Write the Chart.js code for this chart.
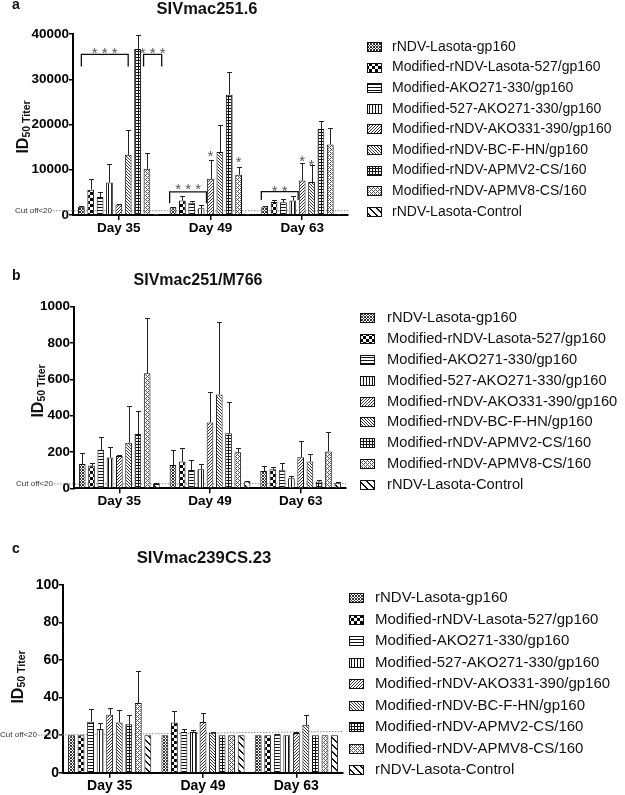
<!DOCTYPE html>
<html>
<head>
<meta charset="utf-8">
<script src="https://cdn.jsdelivr.net/npm/chart.js@4.4.1/dist/chart.umd.min.js"></script>
<style>
  body { margin: 0; background: #fff; overflow: hidden; }
  canvas { position: absolute; left: 0; }
</style>
</head>
<body>
<canvas id="chartA" width="625" height="250" style="top:0px;width:625px;height:250px"></canvas>
<canvas id="chartB" width="625" height="265" style="top:255px;width:625px;height:265px"></canvas>
<canvas id="chartC" width="625" height="270" style="top:525px;width:625px;height:270px"></canvas>
<script>
const FONT = '"Liberation Sans", Arial, sans-serif';

const days = ["Day 35", "Day 49", "Day 63"];
const groups = [
  "rNDV-Lasota-gp160",
  "Modified-rNDV-Lasota-527/gp160",
  "Modified-AKO271-330/gp160",
  "Modified-527-AKO271-330/gp160",
  "Modified-rNDV-AKO331-390/gp160",
  "Modified-rNDV-BC-F-HN/gp160",
  "Modified-rNDV-APMV2-CS/160",
  "Modified-rNDV-APMV8-CS/160",
  "rNDV-Lasota-Control"
];

// a: SIVmac251.6 (one row per group, one column per day)
const titerA = [
  [1800, 1700, 1900],
  [5600, 3200, 2900],
  [4000, 2700, 2800],
  [7200, 1500, 3200],
  [2300, 8000, 7600],
  [13300, 13900, 7300],
  [36700, 26600, 19000],
  [10200, 8900, 15600],
  [20, 20, 20]
];
const semA = [
  [100, 150, 150],
  [2400, 900, 400],
  [1000, 300, 700],
  [4000, 800, 1000],
  [100, 4200, 3800],
  [5400, 6000, 3700],
  [3000, 4900, 1700],
  [3400, 1700, 3700],
  [0, 0, 0]
];
const ticksA = [0, 10000, 20000, 30000, 40000];
const cutoffA = [950, 950];
const bracketsA = [
  { day: 0, from: 0, to: 5, top: 35500, leg: 32800, mark: "* * *", markAt: 36500, edge: false },
  { day: 0, from: 7, to: 8, top: 35500, leg: 32800, mark: "* * *", markAt: 36500, edge: true },
  { day: 1, from: 0, to: 3, top: 5100, leg: 2600, mark: "* * *", markAt: 6600, edge: true },
  { day: 2, from: 0, to: 3, top: 5150, leg: 3300, mark: "* *", markAt: 6100, edge: true }
];
const starsA = [
  { day: 1, bar: 4, at: 13900 },
  { day: 1, bar: 7, at: 12400 },
  { day: 2, bar: 4, at: 12700 },
  { day: 2, bar: 5, at: 11900 }
];

// b: SIVmac251/M766
const titerB = [
  [134, 128, 95],
  [125, 147, 105],
  [211, 101, 99],
  [169, 105, 55],
  [178, 363, 171],
  [251, 517, 147],
  [299, 303, 37],
  [633, 198, 202],
  [24, 37, 28]
];
const semB = [
  [59, 83, 28],
  [13, 73, 14],
  [73, 55, 42],
  [60, 29, 15],
  [4, 169, 90],
  [202, 400, 40],
  [127, 174, 9],
  [306, 26, 110],
  [7, 5, 9]
];
const ticksB = [0, 200, 400, 600, 800, 1000];
const cutoffB = [24, 26];

// c: SIVmac239CS.23
const titerC = [
  [20, 20, 20],
  [20, 26.8, 20],
  [27.2, 21.7, 20.5],
  [23.3, 21.7, 20],
  [30.9, 27, 21.2],
  [26.8, 21.3, 25.5],
  [25.8, 20, 20],
  [37.1, 20, 20],
  [20, 20, 20]
];
const semC = [
  [0, 0, 0],
  [0, 6.1, 0],
  [6.9, 1.4, 0.2],
  [3.2, 1.0, 0],
  [3.7, 5, 0.3],
  [6.6, 0.4, 5.2],
  [4.9, 0, 0],
  [17.1, 0, 0],
  [0, 0, 0]
];
const ticksC = [0, 20, 40, 60, 80, 100];
const cutoffC = [20, 22];

// pixel tiles for the hatch fills, one per group
function makeTile(i) {
  const specs = [
    [3, "#333", (x, y) => (x + y) % 3 === 0 || (x - y + 3) % 3 === 0],
    [6, "#000", (x, y) => (Math.floor(x / 3) + Math.floor(y / 3)) % 2 === 0],
    [3, "#111", (x, y) => y === 0],
    [3, "#111", (x, y) => x === 0],
    [3, "#333", (x, y) => (x + y) % 3 === 2],
    [3, "#333", (x, y) => (x - y + 3) % 3 === 0],
    [3, "#111", (x, y) => x === 0 || y === 0],
    [4, "#555", (x, y) => (x + y) % 4 === 0 || ((x + y) % 4 === 2 && x % 2 === 0)],
    [7, "#111", (x, y) => ((x - y) % 7 + 7) % 7 < 2]
  ];
  const [s, col, on] = specs[i];
  const c = document.createElement("canvas");
  c.width = s; c.height = s;
  const t = c.getContext("2d");
  t.fillStyle = "#fff";
  t.fillRect(0, 0, s, s);
  t.fillStyle = col;
  for (let x = 0; x < s; x++) {
    for (let y = 0; y < s; y++) {
      if (on(x, y)) t.fillRect(x, y, 1, 1);
    }
  }
  return c;
}

function decor(p) {
  return {
    id: "decor",
    beforeDatasetsDraw(chart) {
      const ctx = chart.ctx, y = chart.scales.y, area = chart.chartArea;
      ctx.save();
      const y0 = y.getPixelForValue(p.cutoff[0]);
      const y1 = y.getPixelForValue(p.cutoff[1]);
      ctx.strokeStyle = "#888";
      ctx.lineWidth = 1;
      ctx.setLineDash([1.5, 1.5]);
      ctx.beginPath();
      ctx.moveTo(p.cutLabelRight + 1, y0);
      ctx.lineTo(area.right, y1);
      ctx.stroke();
      ctx.setLineDash([]);
      ctx.fillStyle = "#333";
      ctx.font = "8px " + FONT;
      ctx.textAlign = "right";
      ctx.textBaseline = "middle";
      ctx.fillText("Cut off<20", p.cutLabelRight, y0);
      ctx.restore();
    },
    afterDatasetsDraw(chart) {
      const ctx = chart.ctx, y = chart.scales.y;
      ctx.save();
      // error bars (upper only)
      ctx.strokeStyle = "#222";
      ctx.lineWidth = 1;
      chart.data.datasets.forEach((ds, i) => {
        chart.getDatasetMeta(i).data.forEach((bar, j) => {
          const e = p.sem[i][j];
          if (!e) return;
          const top = Math.round(y.getPixelForValue(ds.data[j] + e)) + 0.5;
          const x = Math.round(bar.x) + 0.5;
          ctx.beginPath();
          ctx.moveTo(x, bar.y);
          ctx.lineTo(x, top);
          ctx.moveTo(x - 2.5, top);
          ctx.lineTo(x + 2.5, top);
          ctx.stroke();
        });
      });
      // significance brackets and stars
      ctx.lineWidth = 1.3;
      ctx.strokeStyle = "#111";
      ctx.fillStyle = "#555";
      ctx.textAlign = "center";
      ctx.textBaseline = "alphabetic";
      ctx.font = "15px " + FONT;
      (p.brackets || []).forEach(b => {
        const a = chart.getDatasetMeta(b.from).data[b.day];
        const c = chart.getDatasetMeta(b.to).data[b.day];
        const xa = b.edge ? a.x - a.width / 2 : a.x;
        const xc = b.edge ? c.x + c.width / 2 + 2 : c.x;
        const yt = y.getPixelForValue(b.top), yl = y.getPixelForValue(b.leg);
        ctx.beginPath();
        ctx.moveTo(xa, yl);
        ctx.lineTo(xa, yt);
        ctx.lineTo(xc, yt);
        ctx.lineTo(xc, yl);
        ctx.stroke();
        ctx.fillText(b.mark, (xa + xc) / 2, y.getPixelForValue(b.markAt) + 0.57 * 15);
      });
      (p.stars || []).forEach(s => {
        const bar = chart.getDatasetMeta(s.bar).data[s.day];
        ctx.fillText("*", bar.x, y.getPixelForValue(s.at) + 0.57 * 15);
      });
      ctx.restore();
    },
    afterDraw(chart) {
      const ctx = chart.ctx;
      ctx.save();
      ctx.fillStyle = "#111";
      // panel letter
      ctx.font = "bold 14px " + FONT;
      ctx.textAlign = "left";
      ctx.textBaseline = "alphabetic";
      ctx.fillText(p.letter, 12, p.letterY);
      // panel title
      ctx.font = "bold " + p.titleSize + "px " + FONT;
      ctx.textAlign = "center";
      ctx.textBaseline = "middle";
      ctx.fillText(p.title, p.titleX, p.titleY);
      // y axis title: ID50 Titer
      ctx.translate(p.yTitleX, p.yTitleY);
      ctx.rotate(-Math.PI / 2);
      ctx.textAlign = "left";
      ctx.textBaseline = "alphabetic";
      ctx.font = "bold 16px " + FONT;
      const w1 = ctx.measureText("ID").width;
      ctx.font = "bold 10.5px " + FONT;
      const w2 = ctx.measureText("50 Titer").width;
      const x0 = -(w1 + w2) / 2;
      ctx.font = "bold 16px " + FONT;
      ctx.fillText("ID", x0, 6);
      ctx.font = "bold 10.5px " + FONT;
      ctx.fillText("50 Titer", x0 + w1, 8);
      ctx.setTransform(1, 0, 0, 1, 0, 0);
      // legend
      ctx.font = p.legendFont + "px " + FONT;
      ctx.textAlign = "left";
      ctx.textBaseline = "middle";
      chart.data.datasets.forEach((ds, i) => {
        const ly = p.legendY + i * p.legendStep;
        ctx.fillStyle = ds.backgroundColor;
        ctx.fillRect(p.boxX, Math.round(ly - 5), 15, 10);
        ctx.strokeStyle = "#111";
        ctx.lineWidth = 1;
        ctx.strokeRect(p.boxX + 0.5, Math.round(ly - 5) + 0.5, 14, 9);
        ctx.fillStyle = "#111";
        ctx.fillText(ds.label, p.textX, ly);
      });
      ctx.restore();
    }
  };
}

function buildPanel(id, p) {
  const canvas = document.getElementById(id);
  const ctx = canvas.getContext("2d");
  const datasets = groups.map((g, i) => ({
    label: g,
    data: p.titer[i],
    backgroundColor: ctx.createPattern(makeTile(i), "repeat"),
    borderColor: "#111",
    borderWidth: 1,
    categoryPercentage: 0.92,
    barPercentage: 0.72
  }));
  return new Chart(ctx, {
    type: "bar",
    data: { labels: days, datasets: datasets },
    options: {
      responsive: false,
      animation: false,
      devicePixelRatio: 1,
      layout: { padding: { left: 0, top: p.top, right: 625 - p.right, bottom: 0 } },
      plugins: {
        legend: { display: false },
        tooltip: { enabled: false },
        title: { display: false }
      },
      scales: {
        x: {
          grid: { display: true, drawOnChartArea: false, offset: false, tickLength: 5, color: "#000", lineWidth: 1.5 },
          border: { display: true, color: "#000", width: 2 },
          ticks: { color: "#000", padding: 0, font: { family: FONT, size: p.tickFont, weight: "bold" } },
          afterFit: s => { s.height = p.xHeight; }
        },
        y: {
          min: 0,
          max: p.ticks[p.ticks.length - 1],
          afterBuildTicks: s => { s.ticks = p.ticks.map(v => ({ value: v })); },
          grid: { display: true, drawOnChartArea: false, tickLength: 4, color: "#000", lineWidth: 1.5 },
          border: { display: true, color: "#000", width: 2 },
          ticks: {
            color: "#000",
            padding: 0,
            font: { family: FONT, size: p.tickFont, weight: "bold" },
            callback: v => String(v)
          },
          afterFit: s => { s.width = p.left; }
        }
      }
    },
    plugins: [decor(p)]
  });
}

buildPanel("chartA", {
  titer: titerA, sem: semA, ticks: ticksA, cutoff: cutoffA,
  brackets: bracketsA, stars: starsA,
  top: 34, left: 73, right: 348, xHeight: 35, tickFont: 13.5,
  letter: "a", letterY: 9, title: "SIVmac251.6", titleSize: 16.5, titleX: 207, titleY: 9,
  yTitleX: 22, yTitleY: 127, cutLabelRight: 52,
  boxX: 367, textX: 392, legendY: 47, legendStep: 20.6, legendFont: 14
});

buildPanel("chartB", {
  titer: titerB, sem: semB, ticks: ticksB, cutoff: cutoffB,
  top: 51.7, left: 74, right: 346, xHeight: 31.7, tickFont: 13.5,
  letter: "b", letterY: 25, title: "SIVmac251/M766", titleSize: 16, titleX: 198, titleY: 26,
  yTitleX: 37, yTitleY: 136, cutLabelRight: 53,
  boxX: 360, textX: 387, legendY: 63.3, legendStep: 20.8, legendFont: 14.7
});

buildPanel("chartC", {
  titer: titerC, sem: semC, ticks: ticksC, cutoff: cutoffC,
  top: 60, left: 63, right: 343, xHeight: 22.3, tickFont: 14,
  letter: "c", letterY: 28, title: "SIVmac239CS.23", titleSize: 16.7, titleX: 204, titleY: 33,
  yTitleX: 17, yTitleY: 152, cutLabelRight: 37,
  boxX: 349, textX: 375, legendY: 73.3, legendStep: 21.5, legendFont: 15
});
</script>
</body>
</html>
